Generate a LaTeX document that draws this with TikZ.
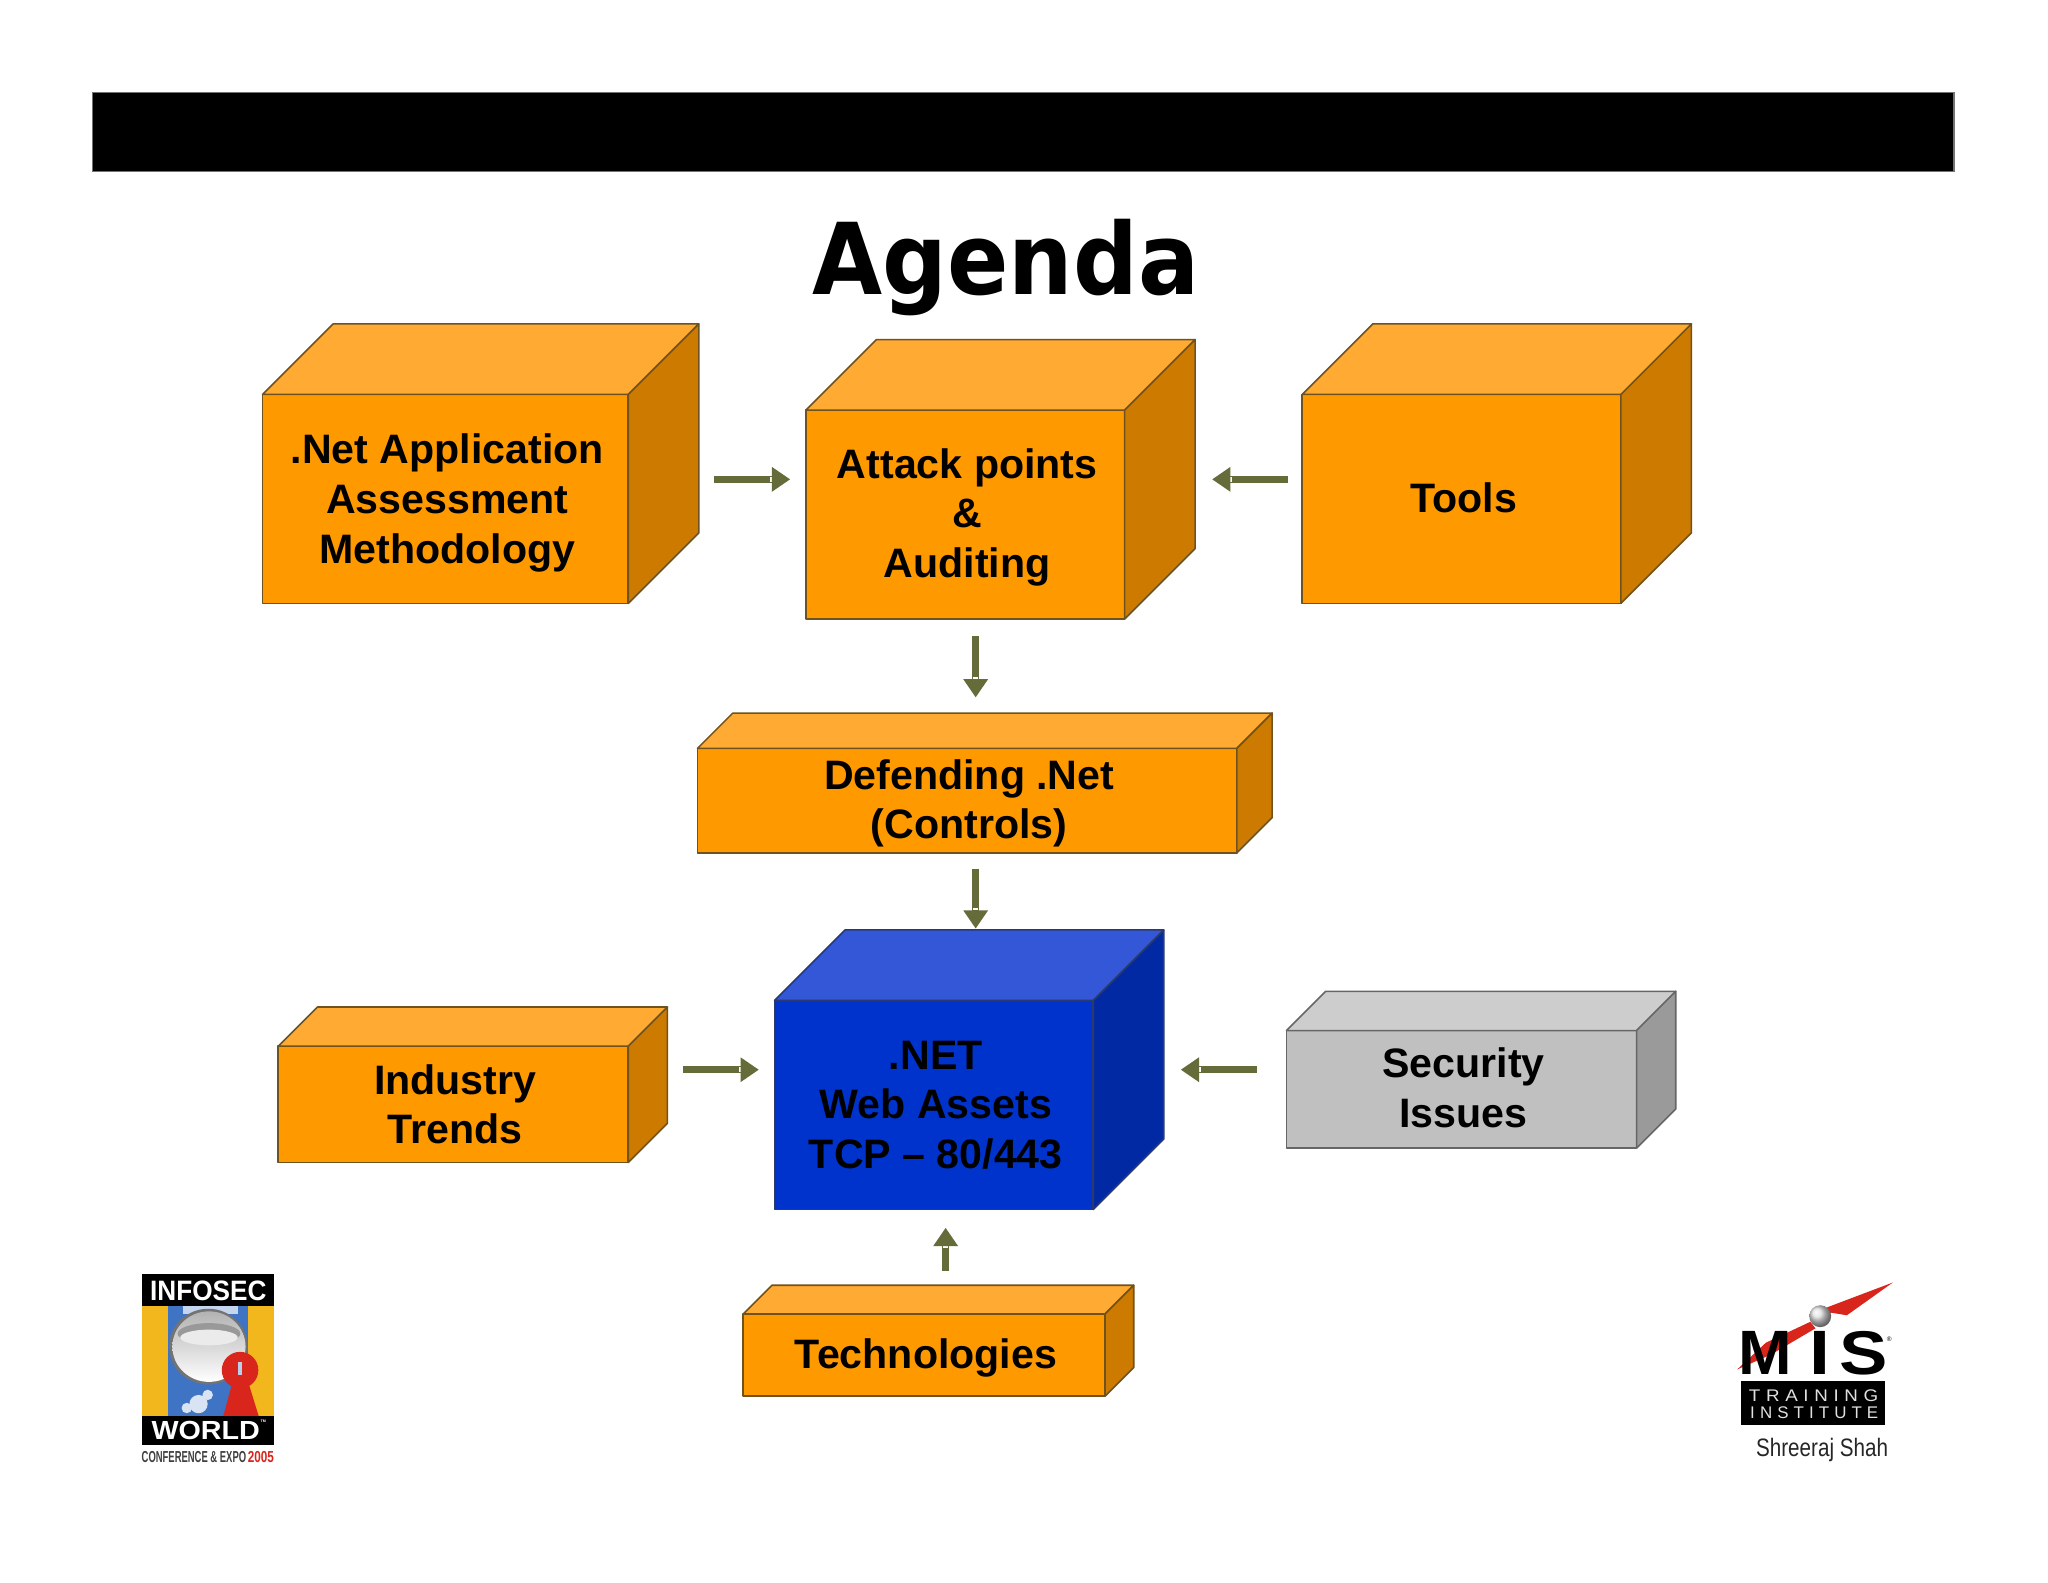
\documentclass[tikz,border=0pt]{standalone}
\usepackage{fontspec}
\usepackage{graphicx}
\setmainfont{Liberation Sans}
\newfontfamily\titlefont{DejaVu Sans}
\usetikzlibrary{arrows.meta,calc}
\definecolor{orF}{HTML}{FF9900}
\definecolor{orT}{HTML}{FFAA33}
\definecolor{orS}{HTML}{CC7A00}
\definecolor{orE}{HTML}{6E5220}
\definecolor{blF}{HTML}{0033CC}
\definecolor{blT}{HTML}{3357D6}
\definecolor{blS}{HTML}{0029A3}
\definecolor{blE}{HTML}{2A3A70}
\definecolor{grF}{HTML}{C0C0C0}
\definecolor{grT}{HTML}{CDCDCD}
\definecolor{grS}{HTML}{9A9A9A}
\definecolor{grE}{HTML}{666666}
\definecolor{olive}{HTML}{666B3A}
\definecolor{logoY}{HTML}{F2B71C}
\definecolor{logoB}{HTML}{3F74C4}
\definecolor{logoR}{HTML}{D9261C}
\tikzset{
  cubetext/.style={font=\fontsize{31.5}{38}\selectfont\bfseries,align=center,text=black,inner sep=0pt,outer sep=0pt},
  cubeedge/.style={line width=1.2pt,line join=round},
  flow/.style={draw=olive,line width=5pt,-{Bar[white,width=4pt,line width=1.5pt,sep=0pt]Triangle[length=14pt,width=18pt]}},
  logotext/.style={inner sep=0pt,outer sep=0pt},
}
% name x0 y0 x1 y1 depth colourprefix text text-dy
\newcommand{\cubebox}[9]{%
  \pgfmathsetlengthmacro{\cw}{(#4-#2)*1pt}%
  \pgfmathsetlengthmacro{\ch}{(#5-#3)*1pt}%
  \pgfmathsetlengthmacro{\bw}{(#4-#2+#6)*1pt}%
  \pgfmathsetlengthmacro{\bh}{(#5-#3+#6)*1pt}%
  \node[inner sep=0pt,outer sep=0pt,minimum width=\bw,minimum height=\bh] (#1)
     at ({(#2+#4+#6)/2},{(#3+#5-#6)/2}) {};%
  \node[inner sep=0pt,outer sep=0pt,draw=#7E,fill=#7F,cubeedge,minimum width=\cw,minimum height=\ch] (#1f)
     at ({(#2+#4)/2},{(#3+#5)/2}) {};%
  \path[fill=#7T,draw=#7E,cubeedge] (#1f.north west) -- ++(#6,-#6) -- ($(#1f.north east)+(#6,-#6)$) -- (#1f.north east) -- cycle;%
  \path[fill=#7S,draw=#7E,cubeedge] (#1f.north east) -- ++(#6,-#6) -- ($(#1f.south east)+(#6,-#6)$) -- (#1f.south east) -- cycle;%
  \node[cubetext] (#1t) at ($(#1f.center)+(1.5,#9)$) {#8};%
}
\begin{document}
\begin{tikzpicture}[x=1pt,y=-1pt]
\useasboundingbox (0,0) rectangle (1568,1211.3);
\fill[white] (0,0) rectangle (1568,1211.3);
% header bar
\node[fill=black,draw=black!55,line width=.8pt,inner sep=0pt,minimum width=1425pt,minimum height=60pt] (bar) at (783.5,101) {};
\node[inner sep=0pt] (title) at (770,205) {\resizebox*{296pt}{74pt}{\titlefont\bfseries Agenda}};
% boxes
\cubebox{a}{201}{302}{481}{462}{54}{or}{.Net Application\\Assessment\\Methodology}{3}
\cubebox{b}{617}{314}{861}{474}{54}{or}{Attack points\\\&\\Auditing}{2}
\cubebox{c}{997}{302}{1241}{462}{54}{or}{Tools}{-1}
\cubebox{d}{534}{573}{947}{653}{27}{or}{Defending .Net\\(Controls)}{2}
\cubebox{e}{593}{766}{837}{926}{54}{bl}{.NET\\Web Assets\\TCP -- 80/443}{0}
\cubebox{f}{213}{801}{481}{890}{30}{or}{Industry\\Trends}{0}
\cubebox{g}{985}{789}{1253}{879}{30}{gr}{Security\\Issues}{-1}
\cubebox{h}{569}{1006}{846}{1069}{22}{or}{Technologies}{2}
% connectors
\coordinate (colA) at (747,0);
\coordinate (colB) at (724,0);
\draw[flow,shorten <=12pt,shorten >=12pt] (a.east |- b.west) -- (b.west);
\draw[flow,shorten <=11pt,shorten >=13pt] (c.west |- b.east) -- (b.east);
\draw[flow,shorten <=13pt,shorten >=12pt] (b.south -| colA) -- (d.north -| colA);
\draw[flow,shorten <=12pt,shorten >=1pt] (d.south -| colA) -- (e.north -| colA);
\draw[flow,shorten <=12pt,shorten >=12pt] (f.east |- e.west) -- (e.west);
\draw[flow,shorten <=23pt,shorten >=13pt] (g.west |- e.east) -- (e.east);
\draw[flow,shorten <=11pt,shorten >=14pt] (h.north -| colB) -- (e.south -| colB);
% left logo
\fill[logoY] (108.5,1000) rectangle (209.8,1084);
\fill[logoB] (129,1000) rectangle (190,1084);
\fill[white!70!logoB] (140,1000) rectangle (182,1006);
\fill[black!55] (159.5,1031) ellipse (30 and 29);
\shade[top color=black!30,bottom color=white] (160,1031) ellipse (28 and 27);
\fill[black!40] (160,1021) ellipse (24 and 8);
\fill[white!92!black] (160,1024) ellipse (22 and 6);
\fill[white!80!logoB] (152,1075) circle (7);
\fill[white!80!logoB] (159,1068) circle (4);
\fill[white!80!logoB] (143,1078) circle (4);
\fill[logoR] (183.8,1049) circle (14);
\fill[logoR] (178,1058) -- (190,1058) -- (198,1084) -- (171,1084) -- cycle;
\fill[white!65!logoB] (182,1043) rectangle (185.5,1053);
\fill[black] (108.5,975.7) rectangle (209.8,1000);
\fill[black] (108.5,1084) rectangle (209.8,1106.4);
\node[logotext,text=white] (infosec) at (159.5,988) {\resizebox{89pt}{15pt}{\bfseries INFOSEC}};
\node[logotext,text=white] (world) at (157.5,1095.5) {\resizebox{83pt}{14pt}{\bfseries WORLD}};
\node[logotext,text=white] (wtm) at (201.5,1088) {\resizebox{4pt}{!}{\bfseries TM}};
\node[logotext,anchor=west,text=black!75] (conf) at (108.5,1115.5) {\resizebox{80pt}{8.5pt}{\bfseries CONFERENCE \& EXPO}};
\node[logotext,anchor=east,text=logoR] (yr) at (209.8,1115.5) {\resizebox{20pt}{8.5pt}{\bfseries 2005}};
% right logo
\fill[logoR] (1449.2,981.9) -- (1400,1000.5) -- (1386,1007) -- (1388,1011) -- (1402,1005) -- (1414,1007) -- cycle;
\fill[logoR] (1386,1012) -- (1352,1028) -- (1330,1048.5) -- (1356,1037) -- (1390,1017) -- cycle;
\node[logotext] (mism) at (1351.5,1036) {\resizebox{41pt}{33pt}{\bfseries M}};
\node[logotext] (misi) at (1393,1036) {\resizebox{16pt}{33pt}{\bfseries I}};
\node[logotext] (miss) at (1426.8,1036) {\resizebox{37pt}{33pt}{\bfseries S}};
\node[logotext] (mtm) at (1446.4,1025) {\fontsize{5}{5}\selectfont ®};
\shade[ball color=black!12] (1393.6,1007.7) circle (8.4);
\fill[black] (1332.8,1057) rectangle (1443.4,1091);
\node[logotext,text=white!88!black] (train) at (1388.5,1068.5) {\resizebox{99pt}{9pt}{\addfontfeature{LetterSpace=30}TRAINING}};
\node[logotext,text=white!88!black] (inst) at (1389,1081.7) {\resizebox{98pt}{9pt}{\addfontfeature{LetterSpace=30}INSTITUTE}};
\node[logotext,text=black!85] (author) at (1395,1110) {\resizebox{101pt}{14pt}{\fontsize{19}{20}\selectfont Shreeraj Shah}};
\end{tikzpicture}
\end{document}
